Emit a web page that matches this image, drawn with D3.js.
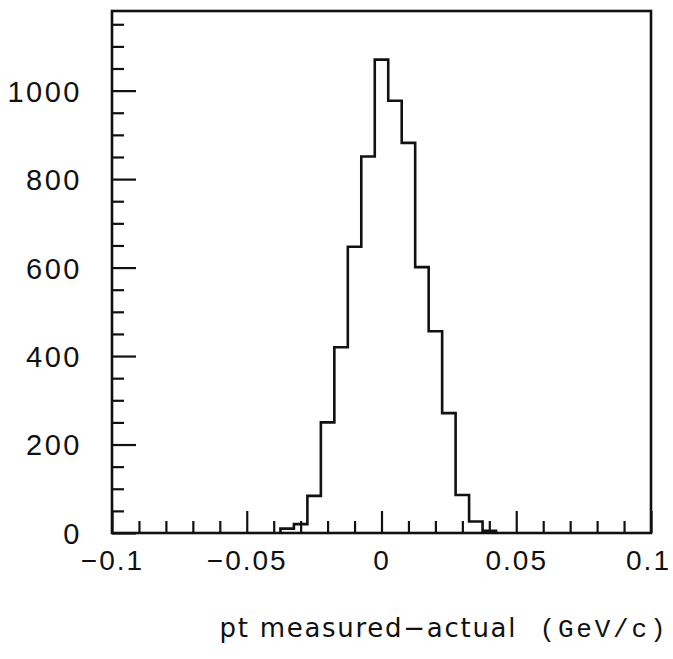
<!DOCTYPE html>
<html>
<head>
<meta charset="utf-8">
<script src="https://cdn.jsdelivr.net/npm/d3@7"></script>
<style>
  html, body { margin: 0; padding: 0; background: #fff; }
  svg { display: block; }
  .tick-label { font-family: "Liberation Sans", Arial, sans-serif; font-size: 29px; letter-spacing: 2.5px; fill: #111; }
  .x-tick .tick-label { font-size: 28px; letter-spacing: 2px; }
  .x-title { font-family: "DejaVu Sans", sans-serif; font-size: 26px; fill: #111; }
  .x-unit { font-family: "Liberation Mono", "DejaVu Sans Mono", monospace; font-size: 26px; fill: #111; }
</style>
</head>
<body>
<div id="chart"></div>
<script>
// pt residual histogram, bins of 0.005 GeV/c centred on multiples of 0.005
const binCenters = [-0.035, -0.03, -0.025, -0.02, -0.015, -0.01, -0.005, 0,
                    0.005, 0.01, 0.015, 0.02, 0.025, 0.03, 0.035, 0.04];
const binCounts  = [10, 20, 84, 250, 420, 647, 851, 1070,
                    977, 882, 601, 456, 271, 86, 26, 5];
const binWidth = 0.005;

const xDomain = [-0.1, 0.1];
const yDomain = [0, 1180];
const xMajorTicks = [-0.1, -0.05, 0, 0.05, 0.1];
const xTickLabels = ["\u22120.1", "\u22120.05", "0", "0.05", "0.1"];
const yMajorTicks = [0, 200, 400, 600, 800, 1000];
const yTickLabels = ["0", "200", "400", "600", "800", "1000"];
const xTitle = "pt measured\u2212actual";
const xUnit = "(GeV/c)";

const W = 673, H = 659;
const MARGIN = { top: 11, right: 22, bottom: 126, left: 112 };
const innerW = W - MARGIN.left - MARGIN.right;
const innerH = H - MARGIN.top - MARGIN.bottom;

const svg = d3.select("#chart").append("svg")
  .attr("width", W).attr("height", H).attr("viewBox", `0 0 ${W} ${H}`);
const g = svg.append("g").attr("transform", `translate(${MARGIN.left},${MARGIN.top})`);

const x = d3.scaleLinear().domain(xDomain).range([0, innerW]);
const y = d3.scaleLinear().domain(yDomain).range([innerH, 0]);

// minor ticks (inside the frame)
const xMinor = x.ticks(20).filter((v) => !xMajorTicks.some((m) => Math.abs(m - v) < 1e-9));
const yMinor = d3.range(0, yDomain[1], 50).filter((v) => !yMajorTicks.includes(v));

function styleAxis(sel) {
  sel.select(".domain").remove();
  sel.selectAll("line").attr("stroke", "#111").attr("stroke-width", 2.2);
}

g.append("g").attr("transform", `translate(0,${innerH})`)
  .call(d3.axisBottom(x).tickValues(xMinor).tickSize(-12).tickFormat(""))
  .call(styleAxis);
g.append("g").attr("class", "x-tick").attr("transform", `translate(0,${innerH})`)
  .call(d3.axisBottom(x).tickValues(xMajorTicks).tickSize(-22).tickPadding(17)
    .tickFormat((d, i) => xTickLabels[i]))
  .call(styleAxis)
  .call((a) => a.attr("font-family", null).attr("font-size", null))
  .selectAll("text").attr("class", "tick-label").attr("dx", (d, i) => i === xMajorTicks.length - 1 ? -3 : 0);

g.append("g")
  .call(d3.axisLeft(y).tickValues(yMinor).tickSize(-12).tickFormat(""))
  .call(styleAxis);
g.append("g")
  .call(d3.axisLeft(y).tickValues(yMajorTicks).tickSize(-24).tickPadding(30)
    .tickFormat((d, i) => yTickLabels[i]))
  .call(styleAxis)
  .call((a) => a.attr("font-family", null).attr("font-size", null))
  .selectAll("text").attr("class", "tick-label").attr("dy", "0.36em");

// frame
g.append("rect")
  .attr("x", 0).attr("y", 0).attr("width", innerW).attr("height", innerH)
  .attr("fill", "none").attr("stroke", "#111").attr("stroke-width", 2.6);

// histogram outline
const pts = [[binCenters[0] - binWidth / 2, 0]];
binCenters.forEach((c, i) => pts.push([c - binWidth / 2, binCounts[i]]));
pts.push([binCenters[binCenters.length - 1] + binWidth / 2, 0]);

const step = d3.line()
  .x((d) => x(d[0]))
  .y((d) => y(d[1]))
  .curve(d3.curveStepAfter);

g.append("path")
  .attr("d", step(pts))
  .attr("fill", "none")
  .attr("stroke", "#111")
  .attr("stroke-width", 2.6);

// axis title
svg.append("text").attr("class", "x-title")
  .attr("x", MARGIN.left + x(0) - 162).attr("y", H - 22)
  .attr("textLength", 296).attr("lengthAdjust", "spacing")
  .text(xTitle);
svg.append("text").attr("class", "x-unit")
  .attr("x", MARGIN.left + x(0) + 158).attr("y", H - 22)
  .attr("textLength", 126).attr("lengthAdjust", "spacing")
  .text(xUnit);
</script>
</body>
</html>
